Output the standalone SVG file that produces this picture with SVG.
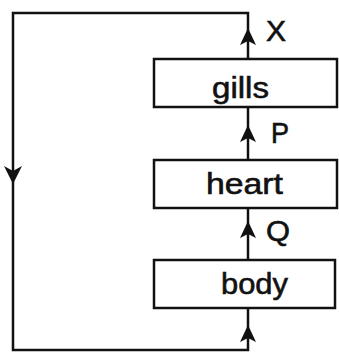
<svg xmlns="http://www.w3.org/2000/svg" width="339" height="353" viewBox="0 0 339 353">
<style>
.box{fill:#fff;stroke:#111;stroke-width:2.5}
.ln{fill:none;stroke:#111;stroke-width:2.5}
.ah{fill:#111}
text{font-family:"Liberation Sans",Arial,sans-serif;fill:#111;stroke:#111;stroke-width:0.6}
.t{font-size:30px}
.lb{font-size:29px}
</style>
<rect width="339" height="353" fill="#fff"/>
<g id="connectors">
<path class="ln" d="M248,59 V13 H13 V350 H248 V308"/>
<path class="ln" d="M248,160 V107"/>
<path class="ln" d="M248,260 V208"/>
<polygon class="ah" points="248,28 256,45 248,41 240,45"/>
<polygon class="ah" points="248,125 256,142 248,138 240,142"/>
<polygon class="ah" points="248,221 256,238 248,234 240,238"/>
<polygon class="ah" points="248,325 256,342 248,338 240,342"/>
<polygon class="ah" points="13,184 4,166 13,171 22,166"/>
<text class="lb" x="266" y="41" textLength="20" lengthAdjust="spacingAndGlyphs">X</text>
<text class="lb" x="271" y="143" textLength="18" lengthAdjust="spacingAndGlyphs">P</text>
<text class="lb" x="266" y="241" textLength="24" lengthAdjust="spacingAndGlyphs">Q</text>
</g>
<g id="gills">
<rect class="box" x="154" y="59" width="183" height="48"/>
<text class="t" x="212" y="98" textLength="57" lengthAdjust="spacingAndGlyphs">gills</text>
</g>
<g id="heart">
<rect class="box" x="154" y="160" width="183" height="48"/>
<text class="t" x="206" y="194" textLength="77" lengthAdjust="spacingAndGlyphs">heart</text>
</g>
<g id="body">
<rect class="box" x="154" y="260" width="181" height="48"/>
<text class="t" x="221" y="294" textLength="67" lengthAdjust="spacingAndGlyphs">body</text>
</g>
</svg>
